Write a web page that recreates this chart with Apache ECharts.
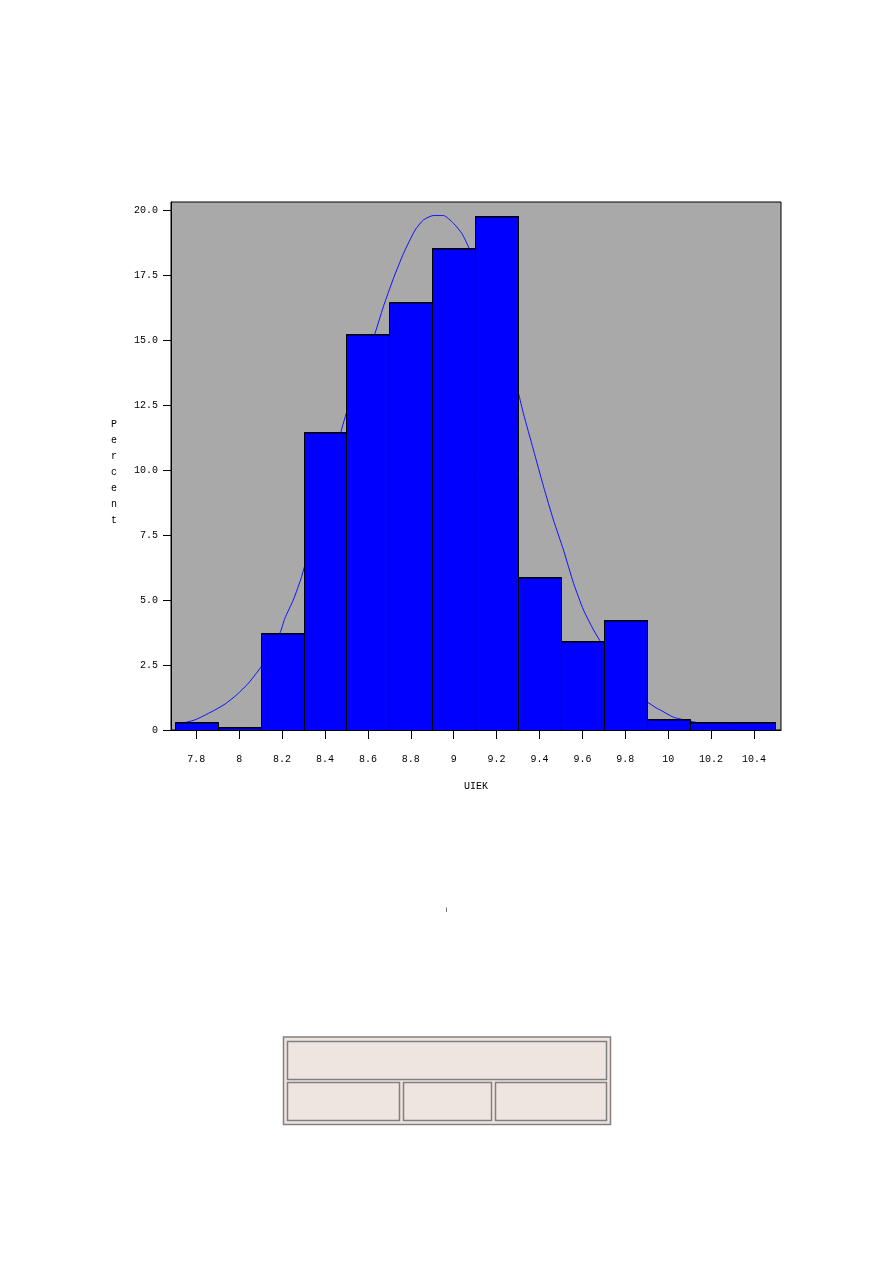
<!DOCTYPE html>
<html>
<head>
<meta charset="utf-8">
<script src="https://cdn.jsdelivr.net/npm/echarts@6/dist/echarts.min.js"></script>
<style>
html,body{margin:0;padding:0;background:#fff;}
#chart{width:893px;height:1263px;}
</style>
</head>
<body>
<div id="chart"></div>
<script>
// ---- data ----
const binStarts = [7.7, 7.9, 8.1, 8.3, 8.5, 8.7, 8.9, 9.1, 9.3, 9.5, 9.7, 9.9, 10.1, 10.3];
const binWidth = 0.2;
const percents = [0.29, 0.12, 3.73, 11.46, 15.24, 16.47, 18.55, 19.77, 5.90, 3.41, 4.23, 0.41, 0.29, 0.29];
const curveX = [7.70, 7.755, 7.80, 7.887, 7.934, 7.988, 8.043, 8.074, 8.10, 8.19, 8.213, 8.252, 8.291, 8.40, 8.50,
  8.633, 8.672, 8.719, 8.766, 8.82, 8.859, 8.905, 8.952, 8.999, 9.038, 9.072, 9.15, 9.25,
  9.302, 9.325, 9.372, 9.419, 9.465, 9.512, 9.559, 9.605, 9.652, 9.68, 9.75, 9.85,
  9.901, 9.948, 9.963, 10.025, 10.064, 10.20, 10.40];
const curveY = [0.20, 0.30, 0.41, 0.77, 1.00, 1.35, 1.80, 2.12, 2.41, 3.73, 4.30, 5.00, 5.90, 9.20, 12.20,
  15.26, 16.28, 17.37, 18.33, 19.23, 19.62, 19.79, 19.79, 19.49, 19.10, 18.53, 16.90, 14.50,
  12.95, 12.18, 10.77, 9.36, 8.08, 6.92, 5.64, 4.62, 3.85, 3.46, 2.50, 1.50,
  1.09, 0.83, 0.77, 0.49, 0.41, 0.18, 0.05];
const xTicks = [7.8, 8, 8.2, 8.4, 8.6, 8.8, 9, 9.2, 9.4, 9.6, 9.8, 10, 10.2, 10.4];
const xTickLabels = ['7.8', '8', '8.2', '8.4', '8.6', '8.8', '9', '9.2', '9.4', '9.6', '9.8', '10', '10.2', '10.4'];
const yTicks = [0, 2.5, 5, 7.5, 10, 12.5, 15, 17.5, 20];
const yTickLabels = ['0', '2.5', '5.0', '7.5', '10.0', '12.5', '15.0', '17.5', '20.0'];
const xTitle = 'UIEK';
const yTitle = 'Percent';

// ---- build ----
const barData = binStarts.map((s, i) => [s, s + binWidth, percents[i]]);
const curveData = curveX.map((x, i) => [x, curveY[i]]);
const FONT = 'Liberation Mono';

function labelFor(vals, labs) {
  return function (v) {
    for (let i = 0; i < vals.length; i++) if (Math.abs(vals[i] - v) < 1e-6) return labs[i];
    return '';
  };
}

const chart = echarts.init(document.getElementById('chart'), null, {renderer: 'canvas'});
chart.setOption({
  animation: false,
  backgroundColor: '#ffffff',
  grid: {
    left: 171, top: 202, width: 610, height: 528,
    show: true, backgroundColor: '#a9a9a9', borderColor: '#000', borderWidth: 1
  },
  xAxis: {
    type: 'value', min: 7.682, max: 10.526,
    name: xTitle, nameLocation: 'middle', nameGap: 51,
    nameTextStyle: {fontFamily: FONT, fontSize: 10, color: '#000'},
    axisLine: {show: true, onZero: false, lineStyle: {color: '#000', width: 1}},
    axisTick: {show: true, length: 9, inside: false, customValues: xTicks, lineStyle: {color: '#000', width: 1}},
    axisLabel: {customValues: xTicks, margin: 24, fontFamily: FONT, fontSize: 10, color: '#000',
      formatter: labelFor(xTicks, xTickLabels)},
    splitLine: {show: false}
  },
  yAxis: {
    type: 'value', min: 0, max: 20.31,
    axisLine: {show: true, lineStyle: {color: '#000', width: 1}},
    axisTick: {show: true, length: 8, inside: false, customValues: yTicks, lineStyle: {color: '#000', width: 1}},
    axisLabel: {customValues: yTicks, margin: 13, fontFamily: FONT, fontSize: 10, color: '#000',
      formatter: labelFor(yTicks, yTickLabels)},
    splitLine: {show: false}
  },
  series: [
    {
      type: 'line', data: curveData, showSymbol: false, smooth: 0.2,
      lineStyle: {color: '#1010ff', width: 1}, z: 1, silent: true
    },
    {
      type: 'custom', z: 2, data: barData,
      renderItem: function (params, api) {
        const p0 = api.coord([api.value(0), api.value(2)]);
        const p1 = api.coord([api.value(1), 0]);
        const x = Math.round(p0[0]) + 0.5, y = Math.round(p0[1]) + 0.5;
        const w = Math.round(p1[0]) - Math.round(p0[0]), h = Math.round(p1[1]) - Math.round(p0[1]);
        return {
          type: 'group',
          children: [
            {type: 'rect', shape: {x: x, y: y, width: w, height: h},
              style: {fill: '#0000ff', stroke: '#000', lineWidth: 1}},
            {type: 'line', shape: {x1: x - 0.5, y1: y + 0.5, x2: x + w + 0.5, y2: y + 0.5},
              style: {stroke: '#000', lineWidth: 1}}
          ]
        };
      }
    }
  ],
  graphic: [
    {type: 'text', left: 111, top: 416, silent: true,
      style: {text: yTitle.split('').join('\n'), font: '10px ' + FONT, lineHeight: 16, fill: '#000', align: 'left'}},
    {type: 'line', shape: {x1: 446.5, y1: 907.5, x2: 446.5, y2: 912}, style: {stroke: '#777', lineWidth: 1}},
    {type: 'rect', shape: {x: 283.5, y: 1037, width: 327, height: 87.5},
      style: {fill: '#eee5e0', stroke: '#808080', lineWidth: 1.5}},
    {type: 'rect', shape: {x: 287.5, y: 1041.5, width: 319, height: 38},
      style: {fill: '#eee5e0', stroke: '#808080', lineWidth: 1.5}},
    {type: 'rect', shape: {x: 287.5, y: 1082.5, width: 112, height: 38},
      style: {fill: '#eee5e0', stroke: '#808080', lineWidth: 1.5}},
    {type: 'rect', shape: {x: 403.5, y: 1082.5, width: 88, height: 38},
      style: {fill: '#eee5e0', stroke: '#808080', lineWidth: 1.5}},
    {type: 'rect', shape: {x: 495.5, y: 1082.5, width: 111, height: 38},
      style: {fill: '#eee5e0', stroke: '#808080', lineWidth: 1.5}}
  ]
});
</script>
</body>
</html>
